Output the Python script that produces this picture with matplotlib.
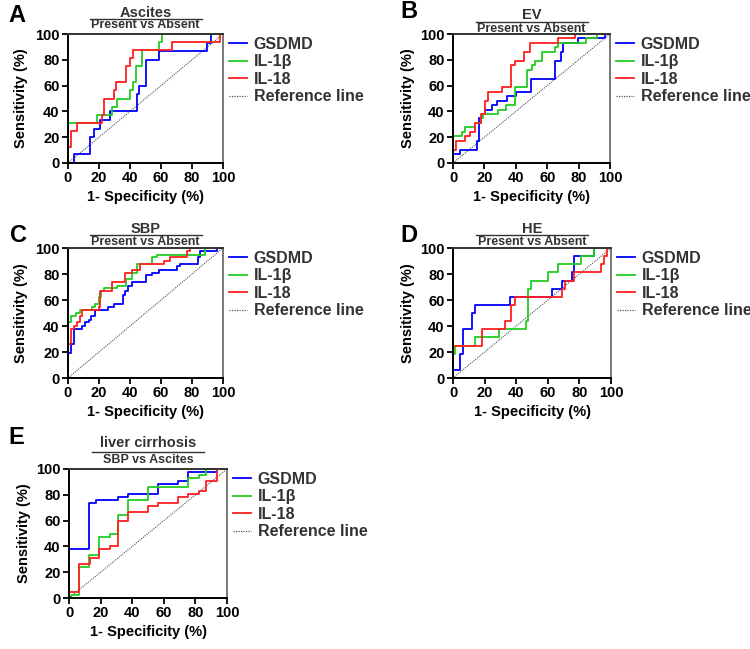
"""ROC curves of GSDMD, IL-1b and IL-18 for five clinical comparisons."""

import matplotlib

matplotlib.use("Agg")
import matplotlib.pyplot as plt
from matplotlib.lines import Line2D

W, H = 750, 649
plt.rcParams["font.family"] = ["Liberation Sans", "DejaVu Sans"]
plt.rcParams["font.weight"] = "bold"

MARKERS = ["GSDMD", "IL-1β", "IL-18"]
COLORS = ["#0000ff", "#22cc22", "#ff2020"]
PANEL_LETTERS = ["A", "B", "C", "D", "E"]
TITLE_TOP = ["Ascites", "EV", "SBP", "HE", "liver cirrhosis"]
TITLE_BOTTOM = ["Present vs Absent", "Present vs Absent", "Present vs Absent",
                "Present vs Absent", "SBP vs Ascites"]
TICKS = [0, 20, 40, 60, 80, 100]

# step curves: x = 1-specificity (%) where the curve jumps, y = new sensitivity (%)
a_gsdmd_x = [0, 4, 14.4, 17, 20.4, 27, 44.5, 46, 50, 59, 89.7, 92, 100]
a_gsdmd_y = [0, 6.7, 20, 26.7, 33.3, 40, 53.3, 60, 80, 86.7, 93.3, 100, 100]
a_il1b_x = [0, 0, 18.7, 28.4, 31.6, 39.8, 42, 44, 47.7, 59, 60.6, 100]
a_il1b_y = [0, 31.25, 37.5, 43.75, 50, 56.25, 62.5, 75, 87.5, 93.75, 100, 100]
a_il18_x = [0, 0, 2, 5.5, 22, 23.4, 29.5, 31.2, 37.6, 39.8, 42, 67, 98.3, 100]
a_il18_y = [0, 12.5, 25, 31.25, 37.5, 50, 56.25, 62.5, 75, 81.25, 87.5, 93.75, 100, 100]

b_gsdmd_x = [0, 0, 4.3, 15, 16.4, 18.5, 20.2, 25, 28.3, 34.7, 40.4, 49.6, 65, 68.5,
             70.2, 79.6, 97, 100]
b_gsdmd_y = [0, 6.9, 10.3, 17.2, 34.5, 37.9, 41.4, 44.8, 48.3, 51.7, 55.2, 65.5, 79.3,
             86.2, 93.1, 96.6, 100, 100]
b_il1b_x = [0, 0, 5.7, 7.4, 13.8, 18, 19, 28.7, 34, 39.4, 47.4, 50, 52, 56.4, 65, 66.6,
            85, 92, 100]
b_il1b_y = [0, 20.7, 24.1, 27.6, 31, 34.5, 37.9, 41.4, 44.8, 58.6, 72.4, 75.9, 79.3,
            86.2, 89.7, 93.1, 96.6, 100, 100]
b_il18_x = [0, 0, 1.7, 7.9, 10.6, 13.8, 18, 20.2, 22.3, 30.9, 37.2, 39.4, 45.3, 49, 67,
            77.7, 100]
b_il18_y = [0, 10.3, 17.2, 20.7, 24.1, 31, 37.9, 48.3, 55.2, 58.6, 75.9, 79.3, 86.2,
            93.1, 96.6, 100, 100]

c_gsdmd_x = [0, 0, 2.2, 4, 9, 11, 13.3, 14.8, 17.6, 26, 29.5, 35.5, 37, 39, 41.3, 50,
             54, 58.5, 70, 72.5, 83.7, 85.4, 96, 100]
c_gsdmd_y = [0, 19, 26, 38, 40, 43, 45, 48, 52, 55, 57, 64, 67, 71, 74, 79, 81, 83, 86,
             88, 93, 98, 100, 100]
c_il1b_x = [0, 0, 2, 5.4, 7.5, 15.5, 17.6, 19.8, 21.3, 23.4, 31.6, 37.6, 41.3, 44.5,
            54.2, 57.4, 88.6, 100]
c_il1b_y = [0, 43, 48, 50, 52, 55, 57, 62, 67, 69, 71, 76, 81, 88, 93, 95, 100, 100]
c_il18_x = [0, 0, 2, 4, 5.8, 7.5, 9, 19.8, 20.9, 28.4, 37, 41.3, 46.7, 61.7, 66, 76.8,
            79, 100]
c_il18_y = [0, 26, 38, 40, 43, 48, 52, 55, 67, 74, 81, 83, 88, 90, 93, 98, 100, 100]

d_gsdmd_x = [0, 0, 4.2, 6.3, 12.3, 14.2, 36, 62.4, 68.7, 75, 76.7, 89.4, 100]
d_gsdmd_y = [0, 6.25, 18.75, 37.5, 50, 56.25, 62.5, 68.75, 75, 81.25, 93.75, 100, 100]
d_il1b_x = [0, 0, 1.5, 14.2, 29, 45.9, 47.6, 49.3, 60.3, 66.6, 81, 89.4, 100]
d_il1b_y = [0, 18.75, 25, 31.25, 37.5, 43.75, 68.75, 75, 81.25, 87.5, 93.75, 100, 100]
d_il18_x = [0, 0, 18.4, 32.8, 37, 39.5, 68.7, 71.2, 76.7, 93.7, 95.3, 97.3, 100]
d_il18_y = [0, 25, 37.5, 43.75, 56.25, 62.5, 68.75, 75, 81.25, 87.5, 93.75, 100, 100]

e_gsdmd_x = [0, 0, 12.7, 17.4, 31, 37.5, 56.6, 69.3, 75.2, 93.6, 100]
e_gsdmd_y = [0, 38, 74, 76, 78.5, 81, 88, 90.5, 97.6, 100, 100]
e_il1b_x = [0, 1.5, 6.4, 12.7, 19, 25.8, 31, 37.5, 50.2, 75.6, 82, 86.9, 100]
e_il1b_y = [0, 2.4, 24, 33, 47.6, 50, 64, 76, 85.7, 92.9, 95.2, 100, 100]
e_il18_x = [0, 0, 6.4, 13, 19, 25.8, 31, 37.5, 50.2, 56.6, 69.3, 75.2, 82, 86.9, 93.6,
            100]
e_il18_y = [0, 4.8, 26, 31, 38, 40.5, 59.5, 66.7, 71.4, 73.8, 78.6, 81, 83.3, 90.5,
            100, 100]

CURVES = [
    [(a_gsdmd_x, a_gsdmd_y), (a_il1b_x, a_il1b_y), (a_il18_x, a_il18_y)],
    [(b_gsdmd_x, b_gsdmd_y), (b_il1b_x, b_il1b_y), (b_il18_x, b_il18_y)],
    [(c_gsdmd_x, c_gsdmd_y), (c_il1b_x, c_il1b_y), (c_il18_x, c_il18_y)],
    [(d_gsdmd_x, d_gsdmd_y), (d_il1b_x, d_il1b_y), (d_il18_x, d_il18_y)],
    [(e_gsdmd_x, e_gsdmd_y), (e_il1b_x, e_il1b_y), (e_il18_x, e_il18_y)],
]

# axes boxes in pixels: left, right, top, bottom
BOXES = [
    (68, 223, 34, 163),
    (453, 610, 34, 163),
    (68, 223, 248, 378),
    (453, 611, 248, 378),
    (69, 227, 469, 598),
]
# vertical pixel positions of the two title lines and the rule between them
TITLE_Y = [(13, 18.5, 25), (15, 21.5, 28.5), (229, 235, 242), (229, 235, 242),
           (443, 452, 460)]
LETTER_XY = [(8, 15), (400, 12), (10, 235), (400, 235), (8, 437)]
YLABEL_X = [28, 415, 28, 415, 31]


def fx(px):
    return px / W


def fy(py):
    return 1 - py / H


def main():
    fig = plt.figure(figsize=(W / 100, H / 100), dpi=100)

    for i, (l, r, t, b) in enumerate(BOXES):
        ax = fig.add_axes([fx(l), fy(b), fx(r) - fx(l), fy(t) - fy(b)])
        ax.plot([0, 100], [0, 100], color="#555555", lw=0.8, ls=(0, (1, 1)),
                zorder=1)
        for (xs, ys), col in zip(CURVES[i], COLORS):
            ax.plot(xs, ys, drawstyle="steps-post", color=col, lw=1.3, zorder=2)
        ax.set_xlim(0, 100)
        ax.set_ylim(0, 100)
        ax.set_xticks(TICKS)
        ax.set_yticks(TICKS)
        ax.tick_params(direction="out", length=4, width=1.3, labelsize=10.5,
                       pad=2)
        for lab in ax.get_xticklabels() + ax.get_yticklabels():
            lab.set_fontweight("bold")
        for sp in ax.spines.values():
            sp.set_linewidth(1.4)
        ax.spines["top"].set_color("#333333")
        ax.spines["right"].set_color("#777777")
        ax.set_ylabel("Sensitivity (%)", fontsize=10.5, fontweight="bold")
        ax.yaxis.set_label_coords((YLABEL_X[i] - l) / (r - l), 0.5)

        cx = (l + r) / 2
        fig.text(fx(cx), fy(b + 34), "1- Specificity (%)", fontsize=10.5,
                 fontweight="bold", ha="center", va="center")
        lx, ly = LETTER_XY[i]
        fig.text(fx(lx), fy(ly), PANEL_LETTERS[i], fontsize=17,
                 fontweight="bold", ha="left", va="center")

        # two-line title with a rule in between
        y1, yl, y2 = TITLE_Y[i]
        fig.text(fx(cx), fy(y1), TITLE_TOP[i], fontsize=10.5, fontweight="bold",
                 color="#333333", ha="center", va="center")
        fig.text(fx(cx), fy(y2), TITLE_BOTTOM[i], fontsize=9,
                 fontweight="bold", color="#333333", ha="center", va="center")
        half = 56
        fig.add_artist(Line2D([fx(cx - half), fx(cx + half)], [fy(yl), fy(yl)],
                              color="#333333", lw=1.0))

        handles = [Line2D([], [], color=c, lw=1.3) for c in COLORS]
        handles.append(Line2D([], [], color="#555555", lw=0.9, ls=(0, (1, 1))))
        leg = ax.legend(handles, MARKERS + ["Reference line"],
                        loc="upper left", frameon=False, fontsize=11.5,
                        handlelength=1.1, handletextpad=0.45, labelspacing=0.15,
                        borderaxespad=0, borderpad=0)
        leg.set_bbox_to_anchor((fx(r + 6), fy(t + 3)), transform=fig.transFigure)
        for txt in leg.get_texts():
            txt.set_fontweight("bold")
            txt.set_color("#333333")

    fig.savefig("out.png", dpi=100)


if __name__ == "__main__":
    main()
